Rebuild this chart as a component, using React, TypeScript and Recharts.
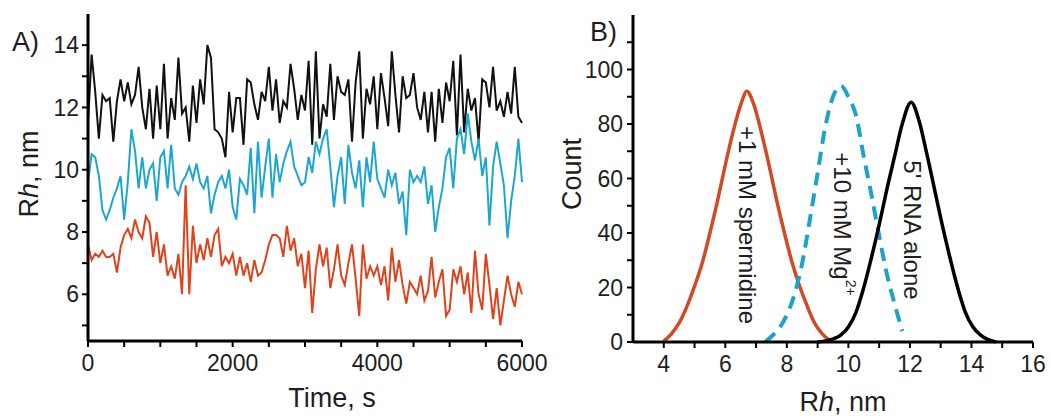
import { Line, LineChart, XAxis, YAxis } from "recharts";

const FONT = '"Liberation Sans", Arial, Helvetica, sans-serif';
const INK = "#1e1e1e";

// ---- panel A: Rh traces over time ----
const timeS = [
  0, 50, 100, 150, 200, 250, 300, 350, 400, 450,
  500, 550, 600, 650, 700, 750, 800, 850, 900, 950,
  1000, 1050, 1100, 1150, 1200, 1250, 1300, 1350, 1400, 1450,
  1500, 1550, 1600, 1650, 1700, 1750, 1800, 1850, 1900, 1950,
  2000, 2050, 2100, 2150, 2200, 2250, 2300, 2350, 2400, 2450,
  2500, 2550, 2600, 2650, 2700, 2750, 2800, 2850, 2900, 2950,
  3000, 3050, 3100, 3150, 3200, 3250, 3300, 3350, 3400, 3450,
  3500, 3550, 3600, 3650, 3700, 3750, 3800, 3850, 3900, 3950,
  4000, 4050, 4100, 4150, 4200, 4250, 4300, 4350, 4400, 4450,
  4500, 4550, 4600, 4650, 4700, 4750, 4800, 4850, 4900, 4950,
  5000, 5050, 5100, 5150, 5200, 5250, 5300, 5350, 5400, 5450,
  5500, 5550, 5600, 5650, 5700, 5750, 5800, 5850, 5900, 5950,
  6000,
];

// 5' RNA alone (black)
const rnaAloneRh = [
  11.5, 13.7, 12.5, 11.0, 12.4, 12.2, 12.3, 10.9, 12.2, 12.9,
  12.2, 12.8, 12.1, 12.4, 13.3, 12.0, 11.3, 12.6, 11.0, 12.7,
  11.3, 13.4, 11.0, 12.3, 11.6, 13.6, 11.8, 12.0, 10.9, 12.7,
  11.5, 12.9, 12.1, 14.0, 13.6, 11.3, 11.2, 11.0, 10.4, 12.5,
  11.2, 12.3, 12.3, 10.8, 12.9, 12.8, 12.1, 11.6, 12.5, 12.2,
  13.3, 11.9, 12.9, 11.5, 12.2, 12.0, 13.4, 12.6, 11.6, 12.4,
  11.9, 13.5, 10.8, 13.8, 11.0, 12.1, 11.7, 13.4, 11.6, 13.0,
  12.5, 12.4, 12.9, 10.9, 12.8, 13.8, 11.0, 12.6, 12.1, 13.0,
  11.3, 13.1, 12.3, 11.4, 13.8, 12.4, 11.2, 13.0, 12.3, 12.4,
  13.1, 12.0, 11.6, 12.5, 11.2, 12.5, 10.9, 12.6, 11.5, 12.8,
  12.2, 13.5, 11.1, 13.7, 11.2, 12.6, 11.9, 12.3, 10.9, 12.9,
  12.8, 12.0, 13.3, 11.9, 12.2, 11.7, 12.5, 11.8, 13.3, 11.7,
  11.5,
];

// +10 mM Mg2+ (cyan)
const mgRh = [
  9.6, 10.5, 10.4, 9.8, 8.7, 8.4, 8.7, 9.1, 9.4, 9.8,
  8.4, 9.6, 11.3, 10.6, 9.4, 10.4, 9.4, 10.0, 10.2, 9.0,
  10.4, 10.6, 9.4, 10.8, 9.4, 9.2, 9.6, 9.8, 10.1, 9.7,
  10.2, 9.6, 9.4, 9.8, 8.6, 9.2, 9.6, 9.8, 9.4, 10.0,
  8.8, 8.4, 9.7, 9.5, 9.2, 10.7, 8.6, 10.9, 9.1, 10.1,
  11.0, 9.1, 10.5, 9.6, 10.2, 10.6, 10.9, 10.1, 9.8, 9.5,
  9.6, 10.4, 9.9, 10.9, 10.5, 11.0, 11.3, 10.1, 8.8, 9.8,
  10.4, 8.9, 10.8, 9.9, 9.4, 10.3, 8.8, 10.4, 9.6, 10.9,
  9.7, 9.4, 9.1, 10.0, 9.5, 9.9, 8.9, 9.3, 7.9, 10.0,
  9.6, 9.8, 9.6, 10.1, 8.9, 9.5, 8.0, 8.8, 9.4, 10.4,
  10.7, 9.4, 11.0, 11.3, 10.5, 11.8, 10.9, 10.3, 11.0, 9.8,
  10.4, 8.2, 10.1, 10.9, 10.2, 9.5, 7.8, 9.0, 9.8, 11.0,
  9.6,
];

// +1 mM spermidine (red)
const spermidineRh = [
  7.6, 7.1, 7.3, 7.2, 7.4, 7.2, 7.2, 7.3, 6.7, 7.5,
  7.9, 8.1, 7.8, 8.4, 8.0, 7.8, 8.5, 8.3, 7.2, 8.0,
  7.0, 7.6, 6.6, 6.9, 6.5, 7.3, 6.0, 9.5, 6.0, 8.2,
  7.0, 7.6, 7.1, 7.8, 7.2, 7.9, 8.1, 6.9, 7.2, 7.0,
  7.3, 6.6, 7.2, 6.6, 7.0, 6.4, 7.1, 6.6, 6.7, 7.1,
  7.6, 7.9, 7.9, 7.8, 7.2, 8.2, 7.4, 7.8, 6.9, 7.3,
  6.2, 7.4, 5.4, 6.8, 7.6, 6.9, 7.5, 6.2, 6.8, 7.6,
  6.6, 6.3, 7.0, 7.6, 6.5, 5.3, 7.6, 6.5, 6.9, 6.6,
  6.9, 6.3, 6.9, 5.8, 7.5, 6.4, 7.1, 6.3, 5.7, 6.4,
  6.2, 6.0, 6.6, 5.8, 6.1, 7.2, 5.9, 6.4, 6.8, 5.3,
  5.5, 6.8, 6.4, 6.9, 6.0, 6.7, 5.4, 7.4, 6.0, 5.5,
  7.3, 6.3, 5.2, 6.2, 5.0, 5.8, 6.6, 6.0, 5.6, 6.4,
  6.0,
];

const timeTicks = [0, 500, 1000, 1500, 2000, 2500, 3000, 3500, 4000, 4500, 5000, 5500, 6000];
const traceRhTicks = [5, 6, 7, 8, 9, 10, 11, 12, 13, 14];

// ---- panel B: Rh distributions ----
const spermidineDistRh = [4.0, 4.25, 4.5, 4.75, 5.0, 5.25, 5.5, 5.75, 6.0, 6.25, 6.5, 6.7, 6.9, 7.15, 7.4, 7.65, 7.9, 8.15, 8.4, 8.65, 8.9, 9.15, 9.4];
const spermidineDistCount = [0.3, 3, 7, 13, 20.5, 29, 40, 52, 65, 77, 87, 92, 88, 78, 66, 53, 41, 30, 21, 13.5, 7, 3, 0.5];

const mgDistRh = [7.3, 7.5, 7.75, 8.0, 8.25, 8.5, 8.75, 9.0, 9.25, 9.5, 9.76, 10.0, 10.25, 10.5, 10.75, 11.0, 11.25, 11.5, 11.75];
const mgDistCount = [0, 2, 5, 10, 17.5, 29, 45, 62, 79, 90, 94, 90, 83, 68, 54, 39, 25, 14, 4];

const rnaDistRh = [9.0, 9.3, 9.75, 10.0, 10.25, 10.5, 10.75, 11.0, 11.25, 11.5, 11.75, 12.04, 12.3, 12.55, 12.8, 13.05, 13.3, 13.55, 13.8, 14.05, 14.3, 14.8];
const rnaDistCount = [0, 0.5, 2.5, 5.5, 11, 20, 31, 43, 56, 68, 80, 88, 81, 69, 56, 43, 31, 20, 11, 5.5, 2.5, 0];

const rhTicksB = [4, 5, 6, 7, 8, 9, 10, 11, 12, 13, 14, 15, 16];
const countTicks = [0, 10, 20, 30, 40, 50, 60, 70, 80, 90, 100, 110];

const traceData = timeS.map((t, i) => ({
  t,
  rna: rnaAloneRh[i],
  mg: mgRh[i],
  spd: spermidineRh[i],
}));

const toPoints = (xs: number[], ys: number[]) => xs.map((rh, i) => ({ rh, count: ys[i] }));
const spermidineDist = toPoints(spermidineDistRh, spermidineDistCount);
const mgDist = toPoints(mgDistRh, mgDistCount);
const rnaDist = toPoints(rnaDistRh, rnaDistCount);

const tickStyle = { fill: INK, fontSize: 23, fontFamily: FONT };
const axisLine = { stroke: "#000", strokeWidth: 3 };
const tickLine = { stroke: "#000", strokeWidth: 2 };

function TraceChart() {
  // wider than its panel so the "6000" label has room; plot still ends at x=522
  return (
    <LineChart width={560} height={416} data={traceData} margin={{ top: 14, right: 38, bottom: 45, left: 28 }}>
      <XAxis
        dataKey="t"
        type="number"
        domain={[0, 6000]}
        ticks={timeTicks}
        interval={0}
        tickFormatter={(v: number) => (v % 2000 === 0 ? String(v) : "")}
        axisLine={axisLine}
        tickLine={tickLine}
        tickSize={6}
        tickMargin={8}
        height={30}
        tick={tickStyle}
      />
      <YAxis
        type="number"
        domain={[4.5, 15]}
        ticks={traceRhTicks}
        interval={0}
        allowDataOverflow
        tickFormatter={(v: number) => (v % 2 === 0 ? String(v) : "")}
        axisLine={axisLine}
        tickLine={tickLine}
        tickSize={6}
        tickMargin={3}
        width={60}
        tick={tickStyle}
      />
      <Line type="linear" dataKey="rna" stroke="#111" strokeWidth={2} dot={false} isAnimationActive={false} />
      <Line type="linear" dataKey="mg" stroke="#1ea6d2" strokeWidth={2} dot={false} isAnimationActive={false} />
      <Line type="linear" dataKey="spd" stroke="#df431b" strokeWidth={2} dot={false} isAnimationActive={false} />
    </LineChart>
  );
}

function DistributionChart() {
  return (
    <LineChart width={511} height={416} margin={{ top: 15, right: 18, bottom: 44, left: 33 }}>
      <XAxis
        dataKey="rh"
        type="number"
        domain={[3, 16]}
        ticks={rhTicksB}
        interval={0}
        allowDuplicatedCategory={false}
        tickFormatter={(v: number) => (v % 2 === 0 ? String(v) : "")}
        axisLine={axisLine}
        tickLine={tickLine}
        tickSize={6}
        tickMargin={8}
        height={30}
        tick={tickStyle}
      />
      <YAxis
        type="number"
        domain={[0, 120]}
        ticks={countTicks}
        interval={0}
        tickFormatter={(v: number) => (v % 20 === 0 ? String(v) : "")}
        axisLine={axisLine}
        tickLine={tickLine}
        tickSize={6}
        tickMargin={4}
        width={60}
        tick={tickStyle}
      />
      <Line data={spermidineDist} type="monotone" dataKey="count" stroke="#d24a25" strokeWidth={3.5} dot={false} isAnimationActive={false} />
      <Line data={mgDist} type="monotone" dataKey="count" stroke="#1ca2cb" strokeWidth={4} strokeDasharray="13 8" dot={false} isAnimationActive={false} />
      <Line data={rnaDist} type="monotone" dataKey="count" stroke="#000" strokeWidth={3.5} dot={false} isAnimationActive={false} />
    </LineChart>
  );
}

function Annotations() {
  const t = { fontFamily: FONT, fill: INK };
  return (
    <svg width={1051} height={416} style={{ position: "absolute", left: 0, top: 0, pointerEvents: "none" }}>
      <text x={12} y={42} fontSize={27} dominantBaseline="central" {...t}>A)</text>
      <text x={590} y={32} fontSize={27} dominantBaseline="central" {...t}>B)</text>

      <text x={29} y={174} fontSize={27} textAnchor="middle" dominantBaseline="central" transform="rotate(-90 29 174)" {...t}>
        R<tspan fontStyle="italic">h</tspan>, nm
      </text>
      <text x={332} y={398} fontSize={27} textAnchor="middle" dominantBaseline="central" {...t}>Time, s</text>

      <text x={572} y={174} fontSize={27} textAnchor="middle" dominantBaseline="central" transform="rotate(-90 572 174)" {...t}>Count</text>
      <text x={843} y={402} fontSize={27} textAnchor="middle" dominantBaseline="central" {...t}>
        R<tspan fontStyle="italic">h</tspan>, nm
      </text>

      <text x={747} y={225} fontSize={24} textAnchor="middle" dominantBaseline="central" transform="rotate(90 747 225)" {...t}>+1 mM spermidine</text>
      <text x={842} y={224} fontSize={24} textAnchor="middle" dominantBaseline="central" transform="rotate(90 842 224)" {...t}>
        +10 mM Mg<tspan fontSize={14} dy={-9}>2+</tspan>
      </text>
      <text x={912} y={230} fontSize={24} textAnchor="middle" dominantBaseline="central" transform="rotate(90 912 230)" {...t}>5' RNA alone</text>
    </svg>
  );
}

export default function App() {
  return (
    <div style={{ position: "absolute", left: 0, top: 0, width: 1051, height: 416, background: "#fff", overflow: "hidden" }}>
      <div style={{ position: "absolute", left: 0, top: 0 }}>
        <TraceChart />
      </div>
      <div style={{ position: "absolute", left: 540, top: 0 }}>
        <DistributionChart />
      </div>
      <Annotations />
    </div>
  );
}
